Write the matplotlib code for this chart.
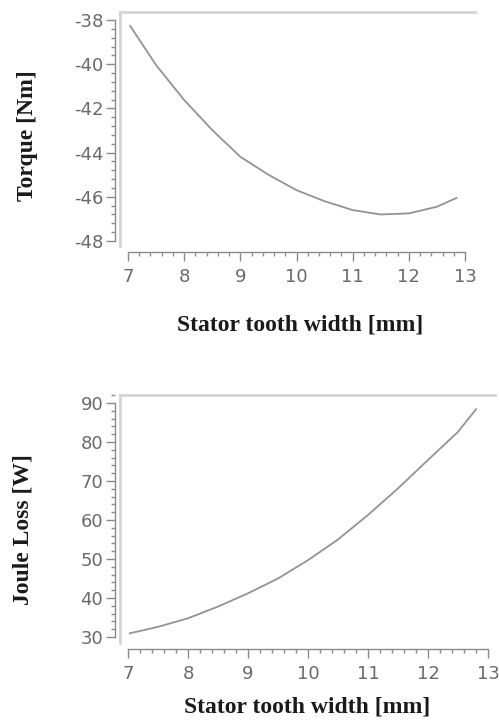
import matplotlib
matplotlib.use("Agg")
from matplotlib import pyplot as plt
from matplotlib.ticker import MultipleLocator

plt.rcParams['axes.unicode_minus'] = False

# values
width_torque = [7.04, 7.5, 8.0, 8.5, 9.0, 9.5, 10.0, 10.5, 11.0, 11.5, 12.0, 12.5, 12.85]
torque = [-38.27, -40.04, -41.62, -42.98, -44.19, -45.0, -45.7, -46.2, -46.6, -46.8, -46.75, -46.45, -46.05]

width_loss = [7.03, 7.5, 8.0, 8.5, 9.0, 9.5, 10.0, 10.5, 11.0, 11.5, 12.0, 12.5, 12.8]
joule_loss = [30.95, 32.6, 34.8, 37.8, 41.2, 45.0, 49.7, 55.0, 61.3, 68.1, 75.4, 82.6, 88.4]

x_ticks = [7, 8, 9, 10, 11, 12, 13]
torque_ticks = [-48, -46, -44, -42, -40, -38]
loss_ticks = [30, 40, 50, 60, 70, 80, 90]

W, H = 499, 724
fig = plt.figure(figsize=(W / 100, H / 100), dpi=100)

line_col = '#939393'
frame_col = '#d4d4d4'
axis_col = '#8a8a8a'
tick_col = '#6a6a6a'
serif = ['Liberation Serif', 'DejaVu Serif']


def px_axes(left, top, right, bottom):
    return fig.add_axes([left / W, 1 - bottom / H, (right - left) / W, (bottom - top) / H])


def style_axes(ax, xlim, ylim, yticks, yminor):
    ax.set_xlim(*xlim)
    ax.set_ylim(*ylim)
    ax.spines['right'].set_visible(False)
    ax.spines['top'].set_visible(False)
    # frame line on top and left of the plot area
    ax.axhline(ylim[1], color=frame_col, lw=2.0, clip_on=False, zorder=0)
    ax.axvline(xlim[0], color=frame_col, lw=2.0, clip_on=False, zorder=0)
    # detached axes
    ax.spines['left'].set_position(('outward', 3.6))
    ax.spines['left'].set_bounds(yticks[0], yticks[-1])
    ax.spines['bottom'].set_position(('outward', 4.3))
    ax.spines['bottom'].set_bounds(x_ticks[0], x_ticks[-1])
    for s in ('left', 'bottom'):
        ax.spines[s].set_color(axis_col)
        ax.spines[s].set_linewidth(1.0)
    ax.set_xticks(x_ticks)
    ax.set_yticks(yticks)
    ax.xaxis.set_minor_locator(MultipleLocator(0.2))
    ax.yaxis.set_minor_locator(MultipleLocator(yminor))
    ax.tick_params(which='major', length=6.5, width=1.0, color=axis_col,
                   labelcolor=tick_col, labelsize=13)
    ax.tick_params(which='minor', length=3, width=1.0, color=axis_col)
    ax.tick_params(axis='x', which='major', pad=5)
    ax.tick_params(axis='y', which='major', pad=2)


# top panel: torque
ax1 = px_axes(120, 12, 475, 246)
ax1.plot(width_torque, torque, color=line_col, lw=1.3)
style_axes(ax1, (7 - 8 / 56.2, 13 + 10 / 56.2), (-48 - 5 / 22.1, -38 + 8 / 22.1),
           torque_ticks, 0.4)

# bottom panel: joule loss
ax2 = px_axes(120, 395, 495, 643)
ax2.plot(width_loss, joule_loss, color=line_col, lw=1.3)
style_axes(ax2, (7 - 8 / 60, 13 + 7 / 60), (30 - 6 / 3.9, 90 + 8 / 3.9),
           loss_ticks, 2)

label_kw = dict(ha='center', va='center', family=serif, fontweight='bold',
                fontsize=17, color='#1a1a1a')
fig.text(300 / W, 1 - 325 / H, 'Stator tooth width [mm]', **label_kw)
fig.text(307 / W, 1 - 707 / H, 'Stator tooth width [mm]', **label_kw)
fig.text(28 / W, 1 - 136 / H, 'Torque [Nm]', rotation=90, **label_kw)
fig.text(23 / W, 1 - 530 / H, 'Joule Loss [W]', rotation=90, **label_kw)

fig.savefig('out.png', dpi=100)
